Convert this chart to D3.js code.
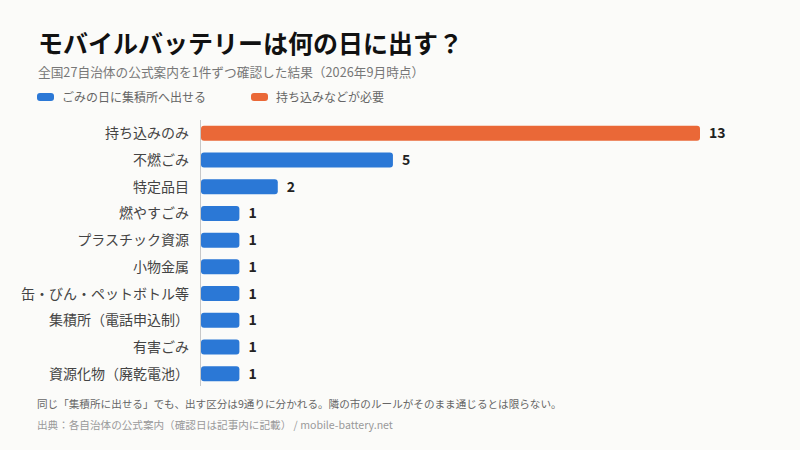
<html>
<head>
<meta charset="utf-8">
<script src="https://d3js.org/d3.v7.min.js"></script>
<style>
  body { margin: 0; background: #fbfbf9; }
  svg text { font-family: "Noto Sans CJK JP", "Noto Sans", sans-serif; }
</style>
</head>
<body>
<svg id="chart" width="800" height="450"></svg>
<script>
// data
const categories = ["持ち込みのみ", "不燃ごみ", "特定品目", "燃やすごみ", "プラスチック資源",
  "小物金属", "缶・びん・ペットボトル等", "集積所（電話申込制）", "有害ごみ", "資源化物（廃乾電池）"];
const counts = [13, 5, 2, 1, 1, 1, 1, 1, 1, 1];
const groups = ["carry", "curb", "curb", "curb", "curb", "curb", "curb", "curb", "curb", "curb"];
const legendLabels = ["ごみの日に集積所へ出せる", "持ち込みなどが必要"];

const colors = { curb: "#2b78d6", carry: "#ea6837" };

const svg = d3.select("#chart");
svg.append("rect").attr("width", 800).attr("height", 450).attr("fill", "#fbfbf9");

// title block
svg.append("text").attr("x", 38).attr("y", 53)
  .attr("font-size", 25).attr("font-weight", "bold").attr("fill", "#111")
  .text("モバイルバッテリーは何の日に出す？");
svg.append("text").attr("x", 38).attr("y", 77)
  .attr("font-size", 12.7).attr("fill", "#777")
  .text("全国27自治体の公式案内を1件ずつ確認した結果（2026年9月時点）");

// legend
const legendKeys = ["curb", "carry"];
legendKeys.forEach((k, i) => {
  let x = 37 + i * 214;
  svg.append("rect").attr("x", x).attr("y", 93).attr("width", 17).attr("height", 8)
    .attr("rx", 3).attr("fill", colors[k]);
  svg.append("text").attr("x", x + 25).attr("y", 101.5)
    .attr("font-size", 12).attr("fill", "#666").text(legendLabels[i]);
});

// scales
const x = d3.scaleLinear().domain([0, 13]).range([201, 700]);
const y = d3.scaleBand().domain(categories).range([120, 387]).paddingInner(0.44).paddingOuter(0.22);

// bars
svg.selectAll("rect.bar").data(categories)
  .join("rect")
  .attr("class", "bar")
  .attr("x", x(0))
  .attr("y", d => y(d))
  .attr("width", (d, i) => x(counts[i]) - x(0))
  .attr("height", y.bandwidth())
  .attr("rx", 3)
  .attr("fill", (d, i) => colors[groups[i]]);

// axis line
svg.append("line").attr("x1", 200.5).attr("x2", 200.5).attr("y1", 120).attr("y2", 386)
  .attr("stroke", "#c8c8c8").attr("stroke-width", 1);

// category labels
svg.selectAll("text.cat").data(categories)
  .join("text")
  .attr("class", "cat")
  .attr("x", 189)
  .attr("y", d => y(d) + y.bandwidth() / 2)
  .attr("dy", "0.36em")
  .attr("text-anchor", "end")
  .attr("font-size", 14)
  .attr("fill", "#444")
  .text(d => d);

// value labels
svg.selectAll("text.val").data(categories)
  .join("text")
  .attr("class", "val")
  .attr("x", (d, i) => x(counts[i]) + 9)
  .attr("y", d => y(d) + y.bandwidth() / 2)
  .attr("dy", "0.36em")
  .attr("font-size", 14)
  .attr("font-weight", "bold")
  .attr("fill", "#222")
  .text((d, i) => counts[i]);

// footer
svg.append("text").attr("x", 37).attr("y", 408)
  .attr("font-size", 10.6).attr("fill", "#666")
  .text("同じ「集積所に出せる」でも、出す区分は9通りに分かれる。隣の市のルールがそのまま通じるとは限らない。");
svg.append("text").attr("x", 37).attr("y", 429)
  .attr("font-size", 10.6).attr("fill", "#999")
  .text("出典：各自治体の公式案内（確認日は記事内に記載） / mobile-battery.net");
</script>
</body>
</html>
